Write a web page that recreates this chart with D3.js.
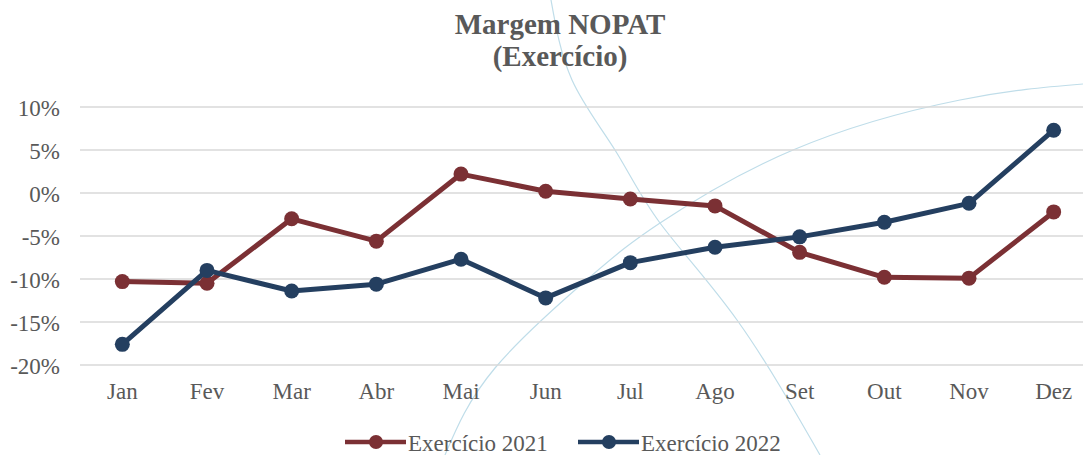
<!DOCTYPE html>
<html><head><meta charset="utf-8">
<script src="https://cdn.jsdelivr.net/npm/d3@7"></script>
<style>body{margin:0;background:#fff}svg{display:block}text{font-family:"Liberation Serif"}</style>
</head><body>
<svg id="chart" width="1083" height="455"></svg>
<script>
const months = ["Jan","Fev","Mar","Abr","Mai","Jun","Jul","Ago","Set","Out","Nov","Dez"];
const values2021 = [-10.3,-10.5,-3.0,-5.6,2.2,0.2,-0.7,-1.5,-6.9,-9.8,-9.9,-2.2];
const values2022 = [-17.6,-9.0,-11.4,-10.6,-7.7,-12.2,-8.1,-6.3,-5.1,-3.4,-1.2,7.3];
const yTicks = [10,5,0,-5,-10,-15,-20];
const seriesNames = ["Exercício 2021","Exercício 2022"];
const colors = ["#7b3034","#243f60"];

const svg = d3.select("#chart");
const W = 1083, H = 455;
const font = "Liberation Serif";
const textColor = "#595959";

const x = d3.scaleBand().domain(months).range([80, 1096]).paddingInner(0).paddingOuter(0);
const y = d3.scaleLinear().domain([-20, 10]).range([365, 107]);

// decorative background arcs
const deco = svg.append("g").attr("fill","none").attr("stroke","#bfdde9").attr("stroke-width",1.2);
const lineGen = d3.line().curve(d3.curveNatural);
deco.append("path").attr("d", lineGen([[551,0],[572,80],[615,150],[660,223],[737,320],[820,455]]));
deco.append("path").attr("d", lineGen([[445,455],[495,368],[590,277],[660,223],[793,150],[960,100],[1083,84]]));

// grid
svg.append("g").selectAll("line").data(yTicks).join("line")
  .attr("x1", 80).attr("x2", W).attr("y1", d=>y(d)).attr("y2", d=>y(d))
  .attr("stroke","#d9d9d9").attr("stroke-width",1.5);

// y axis labels
const yAxis = d3.axisLeft(y).tickValues(yTicks).tickFormat(d=>d+"%").tickSize(0).tickPadding(0);
const yg = svg.append("g").attr("transform","translate(60,1)").call(yAxis);
yg.attr("font-family", font).attr("font-size", 23);
yg.select(".domain").remove();
yg.selectAll("text").style("font-family",font).attr("font-size",23).attr("fill",textColor);

// x axis labels
const xAxis = d3.axisBottom(x).tickSize(0).tickPadding(0);
const xg = svg.append("g").attr("transform","translate(0,383)").call(xAxis);
xg.attr("font-family", font).attr("font-size", 23);
xg.select(".domain").remove();
xg.selectAll("text").style("font-family",font).attr("font-size",23).attr("fill",textColor)
  .attr("dy",null).attr("y",16);

// series
const series = [values2021, values2022];
const line = d3.line().x((d,i)=>x(months[i])+x.bandwidth()/2).y(d=>y(d));
series.forEach((vals, si) => {
  const g = svg.append("g");
  g.append("path").datum(vals).attr("d", line).attr("fill","none")
    .attr("stroke", colors[si]).attr("stroke-width",5).attr("stroke-linejoin","round");
  g.selectAll("circle").data(vals).join("circle")
    .attr("cx",(d,i)=>x(months[i])+x.bandwidth()/2).attr("cy",d=>y(d)).attr("r",7.5)
    .attr("fill",colors[si]);
});

// title
const title = svg.append("text").attr("text-anchor","middle").style("font-family",font)
  .attr("font-weight","bold").attr("font-size",29).attr("fill",textColor);
title.append("tspan").attr("x",560).attr("y",34).text("Margem NOPAT");
title.append("tspan").attr("x",560).attr("y",66).text("(Exercício)");

// legend
const legendX = [345, 578];
seriesNames.forEach((name, i) => {
  const g = svg.append("g").attr("transform", `translate(${legendX[i]},442)`);
  g.append("line").attr("x1",0).attr("x2",61).attr("stroke",colors[i]).attr("stroke-width",4.5);
  g.append("circle").attr("cx",31).attr("r",7).attr("fill",colors[i]);
  g.append("text").attr("x",63).attr("y",9).style("font-family",font).attr("font-size",23)
    .attr("fill",textColor).text(name);
});
</script>
</body></html>
